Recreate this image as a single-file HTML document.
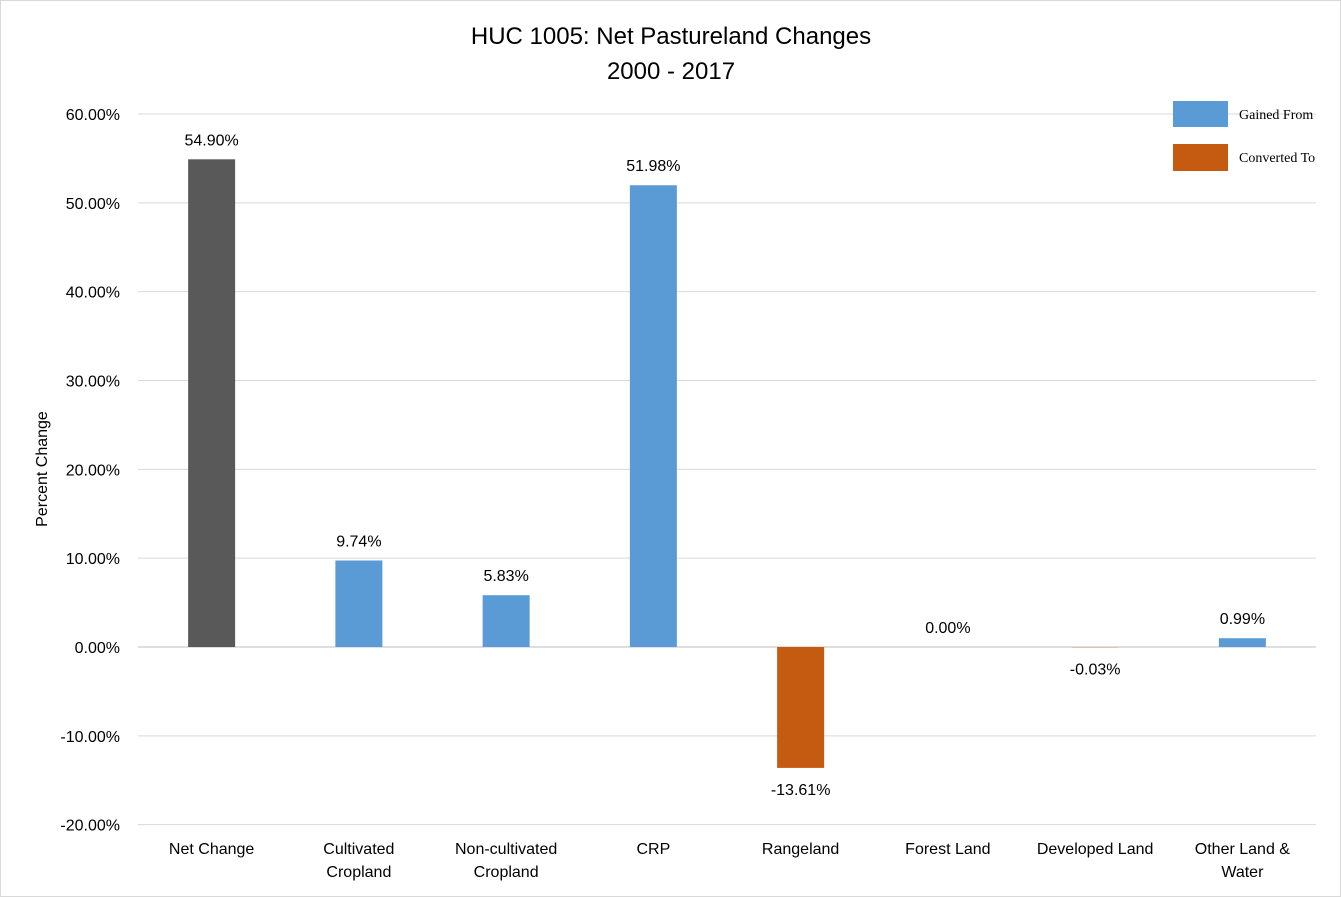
<!DOCTYPE html>
<html><head><meta charset="utf-8"><style>
body{margin:0;background:#fff}
svg{display:block;font-family:"Liberation Sans",sans-serif}
</style></head><body>
<svg id="chart" width="1341" height="897">
<rect x="0.5" y="0.5" width="1340" height="896" fill="#fff" stroke="#d9d9d9"/>
<text x="671" y="44" text-anchor="middle" font-size="24" fill="#000">HUC 1005: Net Pastureland Changes</text>
<text x="671" y="79" text-anchor="middle" font-size="24" fill="#000">2000 - 2017</text>
<text transform="translate(47,469) rotate(-90)" text-anchor="middle" font-size="16">Percent Change</text>
<g id="grid"></g><g id="bars"></g><g id="labels"></g>
<g>
<rect x="1173" y="101" width="55" height="26" fill="#5b9bd5"/>
<text x="1239" y="119" font-family="Liberation Serif,serif" font-size="14">Gained From</text>
<rect x="1173" y="144" width="55" height="27" fill="#c55a11"/>
<text x="1239" y="162" font-family="Liberation Serif,serif" font-size="14">Converted To</text>
</g>
</svg>
<script>
const categories=[["Net Change"],["Cultivated","Cropland"],["Non-cultivated","Cropland"],["CRP"],["Rangeland"],["Forest Land"],["Developed Land"],["Other Land &","Water"]];
const values=[54.90,9.74,5.83,51.98,-13.61,0.00,-0.03,0.99];
const valueLabels=["54.90%","9.74%","5.83%","51.98%","-13.61%","0.00%","-0.03%","0.99%"];
const kinds=["net","gain","gain","gain","conv","gain","conv","gain"];
const yTicks=[60,50,40,30,20,10,0,-10,-20];
const NS="http://www.w3.org/2000/svg";
const x0=138,x1=1316,bw=(x1-x0)/categories.length;
const y=v=>647-v*(647-114)/60;
const cx=i=>x0+bw*(i+0.5);
const colors={net:"#595959",gain:"#5b9bd5",conv:"#c55a11"};
function mk(tag,attrs,parent,text){const e=document.createElementNS(NS,tag);for(const k in attrs)e.setAttribute(k,attrs[k]);if(text!==undefined)e.textContent=text;parent.appendChild(e);return e;}
const grid=document.getElementById('grid'),bars=document.getElementById('bars'),labels=document.getElementById('labels');
yTicks.forEach(t=>{
 const l=mk('line',{x1:x0,x2:x1,y1:y(t),y2:y(t),stroke:t===0?"#bfbfbf":"#d9d9d9","stroke-width":1},grid);
 
 
 const tx=mk('text',{x:120,y:y(t)+6,"text-anchor":"end","font-size":16},grid,t.toFixed(2)+"%");
 
 
});
values.forEach((v,i)=>{
 const top=y(Math.max(v,0)),bot=y(Math.min(v,0));
 const r=mk('rect',{x:cx(i)-23.5,y:top,width:47,height:Math.max(bot-top,0),fill:colors[kinds[i]]},bars);
 
 
 const ly=v>=0?y(v)-14:y(v)+27;
 const t=mk('text',{x:cx(i),y:ly,"text-anchor":"middle","font-size":16},labels,valueLabels[i]);
 
 
 categories[i].forEach((s,j)=>{
  const c=mk('text',{x:cx(i),y:854+j*23,"text-anchor":"middle","font-size":16},labels,s);
  
  
 });
});
</script>
</body></html>
